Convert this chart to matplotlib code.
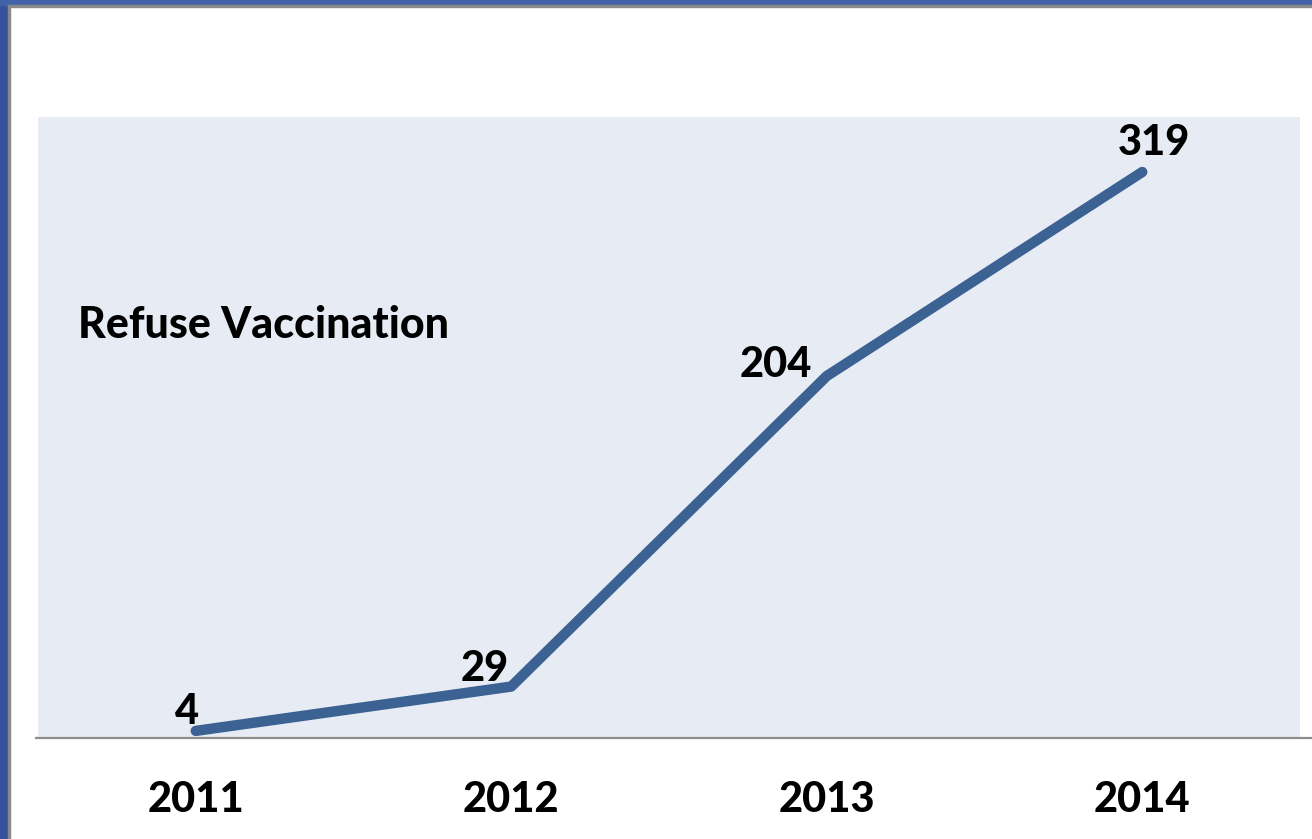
import matplotlib
matplotlib.use("Agg")
import matplotlib.pyplot as plt
from matplotlib.patches import Rectangle
from matplotlib.lines import Line2D

years = ["2011", "2012", "2013", "2014"]
refused = [4, 29, 204, 319]
series_name = "Refuse Vaccination"

# label offsets in pixels (dx, dy) relative to each point
label_offsets = [(-9, 19), (-26, 18), (-51, 11), (12, 29)]

W, H = 1312, 839
fig = plt.figure(figsize=(W / 100, H / 100), dpi=100)
fig.patch.set_facecolor("white")

# slide frame
fig.patches.append(Rectangle((0, 0), 8 / W, 1, transform=fig.transFigure, color="#34539a", zorder=0))
fig.patches.append(Rectangle((8 / W, 0), 2 / W, 1 - 5 / H, transform=fig.transFigure, color="#8a8a8a", zorder=0))
fig.patches.append(Rectangle((0, 1 - 5 / H), 1, 5 / H, transform=fig.transFigure, color="#4263a8", zorder=0))
fig.patches.append(Rectangle((8 / W, 1 - 7 / H), 1, 2 / H, transform=fig.transFigure, color="#8a8a8a", zorder=0))

left, right, top, bottom = 38, 1300, 117, 738
ax = fig.add_axes([left / W, 1 - bottom / H, (right - left) / W, (bottom - top) / H])
ax.set_facecolor("#e7ecf4")
for s in ax.spines.values():
    s.set_visible(False)

x = list(range(len(years)))
ax.plot(x, refused, color="#3b6293", lw=7.5, solid_capstyle="round", solid_joinstyle="round")
ax.set_xlim(-0.5, len(years) - 0.5)
ax.set_ylim(0, 350)
ax.set_xticks([])
ax.set_yticks([])

font = ["Lato", "DejaVu Sans"]
fs = 30
wt = "black"
for xi, v, (dx, dy) in zip(x, refused, label_offsets):
    ax.annotate(str(v), (xi, v), xytext=(dx * 0.72, dy * 0.72), textcoords="offset points",
                ha="center", va="center", fontsize=fs, fontweight=wt, family=font)

for xi, yr in zip(x, years):
    ax.annotate(yr, (xi, 0), xytext=(0, -62 * 0.72), textcoords="offset points",
                ha="center", va="center", fontsize=fs, fontweight=wt, family=font, annotation_clip=False)

ax.text(78 / W, 1 - 325 / H, series_name, transform=fig.transFigure, ha="left", va="center",
        fontsize=31, fontweight=wt, family=font)

# bottom axis line
fig.add_artist(Line2D([36 / W, 1], [1 - bottom / H, 1 - bottom / H], transform=fig.transFigure,
                      color="#8c8c8c", lw=1.6))

fig.savefig("out.png", dpi=100, facecolor=fig.get_facecolor())
